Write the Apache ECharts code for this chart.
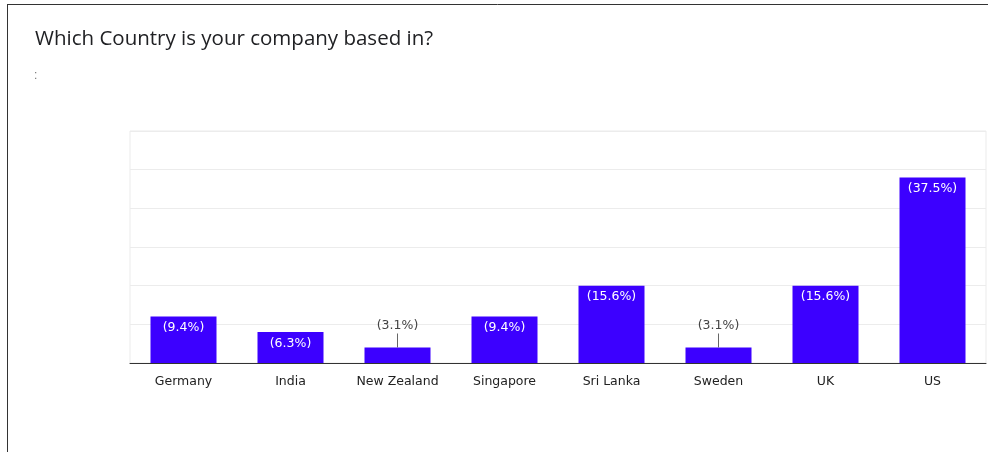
<!DOCTYPE html>
<html>
<head>
<meta charset="utf-8">
<script src="https://cdn.jsdelivr.net/npm/echarts@6/dist/echarts.min.js"></script>
<style>
html,body{margin:0;padding:0;background:#fff;}
#chart{width:988px;height:452px;}
</style>
</head>
<body>
<div id="chart"></div>
<script>
const categories = ['Germany', 'India', 'New Zealand', 'Singapore', 'Sri Lanka', 'Sweden', 'UK', 'US'];
const counts = [3, 2, 1, 3, 5, 1, 5, 12];
const percentLabels = ['(9.4%)', '(6.3%)', '(3.1%)', '(9.4%)', '(15.6%)', '(3.1%)', '(15.6%)', '(37.5%)'];
const titleText = 'Which Country is your company based in?';

const barColor = '#3c00ff';
const smallThreshold = 1;

const seriesData = counts.map((v, i) => {
  if (v <= smallThreshold) {
    return {
      value: v,
      label: {
        position: 'top',
        distance: 0,
        formatter: '{t|' + percentLabels[i] + '}\n{l|}',
        rich: {
          t: { color: '#444', fontSize: 12.5, fontFamily: 'DejaVu Sans', lineHeight: 15, align: 'center' },
          l: { width: 1, height: 14, backgroundColor: '#666', align: 'center' }
        }
      }
    };
  }
  return { value: v, label: { formatter: percentLabels[i] } };
});

const chart = echarts.init(document.getElementById('chart'), null, { renderer: 'canvas' });
chart.setOption({
  animation: false,
  backgroundColor: '#fff',
  title: {
    text: titleText,
    left: 30,
    top: 24,
    textStyle: { fontFamily: 'Open Sans', fontSize: 20.5, fontWeight: 'normal', color: '#202124' }
  },
  graphic: [
    { type: 'line', shape: { x1: 7, y1: 4.5, x2: 988, y2: 4.5 }, style: { stroke: '#333', lineWidth: 1 } },
    { type: 'line', shape: { x1: 7.5, y1: 4, x2: 7.5, y2: 452 }, style: { stroke: '#333', lineWidth: 1 } },
    { type: 'text', left: 34, top: 70, style: { text: ':', fontSize: 12, fill: '#777', fontFamily: 'Liberation Sans' } }
  ],
  grid: {
    left: 130, top: 131, width: 856, bottom: 89,
    show: true, borderColor: '#ebebeb', borderWidth: 1
  },
  xAxis: {
    type: 'category',
    data: categories,
    axisTick: { show: false },
    axisLine: { lineStyle: { color: '#333', width: 1 } },
    axisLabel: { color: '#222', fontSize: 12.5, fontFamily: 'DejaVu Sans', margin: 12 }
  },
  yAxis: {
    type: 'value',
    min: 0, max: 15, interval: 2.5,
    axisLabel: { show: false },
    axisLine: { show: false },
    axisTick: { show: false },
    splitLine: { lineStyle: { color: '#ececec' } }
  },
  series: [{
    type: 'bar',
    data: seriesData,
    barWidth: 66,
    itemStyle: { color: barColor },
    label: {
      show: true,
      position: 'insideTop',
      distance: 5,
      color: '#fff',
      fontSize: 12.5,
      fontFamily: 'DejaVu Sans'
    }
  }]
});
</script>
</body>
</html>
